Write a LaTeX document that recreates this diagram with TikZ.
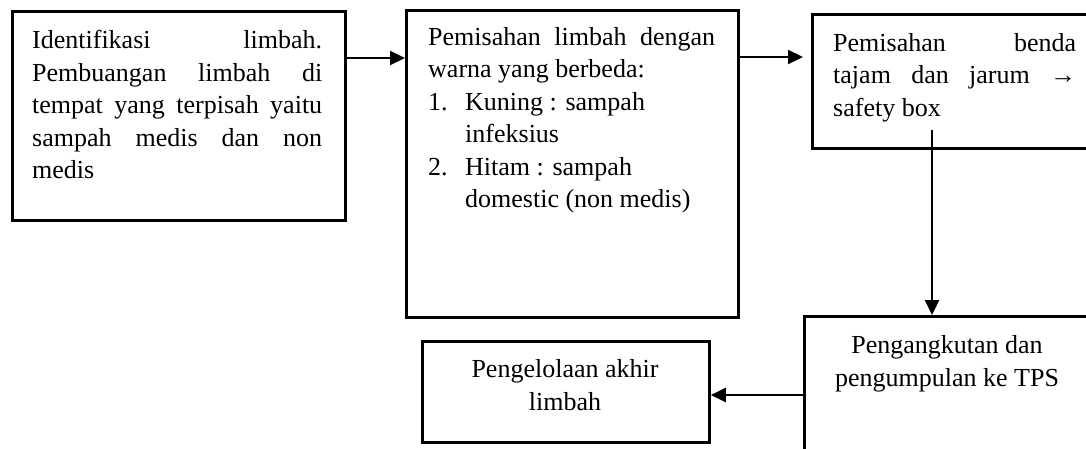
\documentclass[tikz,border=0pt]{standalone}
\usepackage{fontspec}
\setmainfont{Liberation Serif}
\usetikzlibrary{arrows.meta}
\tikzset{
  box/.style={draw, line width=2.8pt, anchor=north west, inner sep=0pt},
  txt/.style={anchor=north west, inner sep=0pt, align=left, font=\fontsize{26}{32.5}\selectfont},
  ctxt/.style={anchor=north, inner sep=0pt, align=center, font=\fontsize{26}{33}\selectfont},
  arr/.style={line width=2.2pt, -{Triangle[length=15pt,width=14pt]}}
}
\newcommand{\jl}[2]{\makebox[#1][s]{#2}}
\begin{document}
\begin{tikzpicture}[x=1pt,y=-1pt]
\useasboundingbox (0,0) rectangle (1086,448);
\clip (0,0) rectangle (1086,448);
% boxes
\node[box, minimum width=333pt, minimum height=209pt] (b1) at (11,10) {};
\node[box, minimum width=332pt, minimum height=307pt] (b2) at (405,9) {};
\node[box, minimum width=300pt, minimum height=134pt] (b3) at (811,13) {};
\node[box, minimum width=300pt, minimum height=160pt] (b4) at (803,315) {};
\node[box, minimum width=287pt, minimum height=101pt] (b5) at (421,340) {};
% texts
\node[txt] (t1) at (32,30) {\jl{290pt}{Identifikasi limbah.}\\ \jl{290pt}{Pembuangan limbah di}\\ \jl{290pt}{tempat yang terpisah yaitu}\\ \jl{290pt}{sampah medis dan non}\\ medis};
\node[txt] (t2) at (428,27) {\jl{287pt}{Pemisahan limbah dengan}\\ warna yang berbeda:\\ \makebox[37pt][l]{1.}Kuning : sampah\\ \hspace*{37pt}infeksius\\ \makebox[37pt][l]{2.}Hitam : sampah\\ \hspace*{37pt}domestic (non medis)};
\node[txt] (t3) at (833,33) {\jl{243pt}{Pemisahan benda}\\ \jl{243pt}{tajam dan jarum →}\\ safety box};
\node[ctxt] (t4) at (947,335) {Pengangkutan dan\\ pengumpulan ke TPS};
\node[ctxt] (t5) at (565,359) {Pengelolaan akhir\\ limbah};
% connectors
\coordinate (s3) at (932,130);
\draw[arr] (b1.east |- 0,58) -- (b2.west |- 0,58);
\draw[arr, shorten >=8pt] (b2.east |- 0,57) -- (b3.west |- 0,57);
\draw[arr] (s3) -- (s3 |- b4.north);
\draw[arr] (b4.west |- 0,395) -- (b5.east |- 0,395);
\end{tikzpicture}
\end{document}
